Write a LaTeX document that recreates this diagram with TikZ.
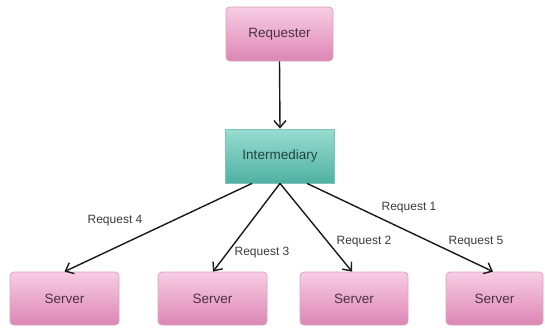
\documentclass[tikz,border=0pt]{standalone}
\usepackage{fontspec}
\setmainfont{Liberation Sans}
\usetikzlibrary{arrows.meta}
\definecolor{pinktop}{HTML}{F7CDE3}
\definecolor{pinkbot}{HTML}{DD86B4}
\definecolor{pinkline}{HTML}{D9A3C0}
\definecolor{pinktext}{HTML}{4E2F45}
\definecolor{tealtop}{HTML}{98DDD1}
\definecolor{tealbot}{HTML}{4FB1A2}
\definecolor{tealline}{HTML}{7CC5B8}
\definecolor{tealtext}{HTML}{22443F}
\definecolor{labeltext}{HTML}{3A3A3A}
\tikzset{
  pinkbox/.style={draw=pinkline, line width=0.8pt, rounded corners=4pt,
    top color=pinktop, bottom color=pinkbot, text=pinktext,
    font=\fontsize{13.5}{15}\selectfont, inner sep=0pt},
  tealbox/.style={draw=tealline, line width=0.8pt,
    top color=tealtop, bottom color=tealbot, text=tealtext,
    font=\fontsize{13.5}{15}\selectfont, inner sep=0pt},
  conn/.style={draw=black!90, line width=1.4pt,
    -{Straight Barb[length=7pt,width=12pt,line width=1.4pt]}},
  reqlabel/.style={text=labeltext, font=\fontsize{12}{14}\selectfont, inner sep=0pt}
}
\begin{document}
\begin{tikzpicture}[x=1pt,y=-1pt]
\useasboundingbox (0,0) rectangle (545,327);
\node[pinkbox, minimum width=107pt, minimum height=54pt] (req) at (279.5,34) {Requester};
\node[tealbox, minimum width=109pt, minimum height=54pt] (inter) at (280,156) {Intermediary};
\node[pinkbox, minimum width=109pt, minimum height=53pt] (s1) at (64.5,298.5) {Server};
\node[pinkbox, minimum width=109pt, minimum height=53pt] (s2) at (212.5,298.5) {Server};
\node[pinkbox, minimum width=108pt, minimum height=53pt] (s3) at (354,298.5) {Server};
\node[pinkbox, minimum width=97pt, minimum height=53pt] (s4) at (494.5,298.5) {Server};
\draw[conn] (req.south) -- (inter.north);
\draw[conn] ([xshift=-28pt]inter.south) -- (s1.north);
\draw[conn] (inter.south) -- ([xshift=0.5pt]s2.north);
\draw[conn] (inter.south) -- ([xshift=-2pt]s3.north);
\draw[conn] ([xshift=27pt]inter.south) -- ([xshift=-1.5pt]s4.north);
\node[reqlabel] (l4) at (115,221) {Request 4};
\node[reqlabel] (l3) at (262,253) {Request 3};
\node[reqlabel] (l1) at (409,208) {Request 1};
\node[reqlabel] (l2) at (364,242) {Request 2};
\node[reqlabel] (l5) at (476,242) {Request 5};
\end{tikzpicture}
\end{document}
